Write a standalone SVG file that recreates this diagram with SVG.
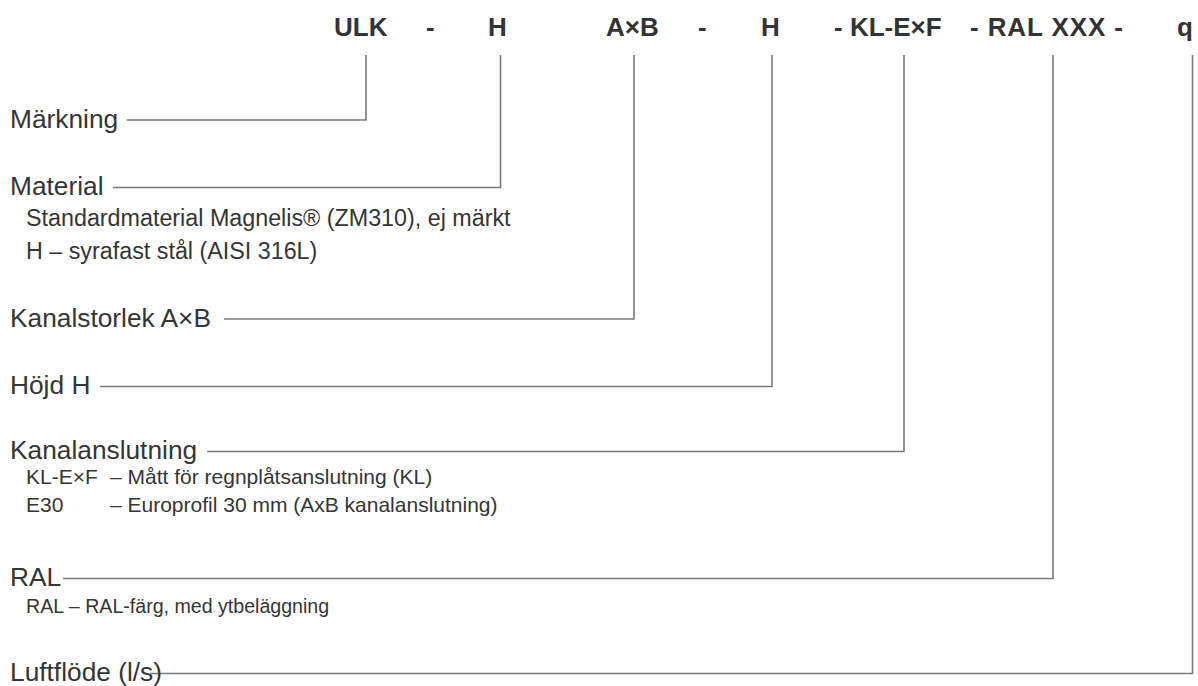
<svg xmlns="http://www.w3.org/2000/svg" width="1198" height="686" viewBox="0 0 1198 686">
<style>
.code{font-family:"Liberation Sans",Arial,sans-serif;font-weight:bold;font-size:26px;fill:#333}
.lbl{font-family:"Liberation Sans",Arial,sans-serif;font-size:26.3px;fill:#353535}
.sub{font-family:"Liberation Sans",Arial,sans-serif;fill:#353535}
.s1{font-size:23.3px}
.s2{font-size:21px}
.s3{font-size:19.6px}
.con{fill:none;stroke:#7a7a7a;stroke-width:1.6}
</style>
<rect width="1198" height="686" fill="#fff"/>
<g id="code">
<text class="code" x="334" y="36">ULK</text>
<text class="code" x="426" y="36">-</text>
<text class="code" x="488" y="36">H</text>
<text class="code" x="606" y="36">A×B</text>
<text class="code" x="698" y="36">-</text>
<text class="code" x="761" y="36">H</text>
<text class="code" x="834" y="36">- KL-E×F</text>
<text class="code" x="970" y="36" textLength="153">- RAL XXX -</text>
<text class="code" x="1177" y="36">q</text>
</g>
<g id="connectors">
<polyline class="con" points="127,120 366,120 366,55"/>
<polyline class="con" points="113,187.5 500.5,187.5 500.5,55"/>
<polyline class="con" points="224,319 634,319 634,55"/>
<polyline class="con" points="100,386.5 772,386.5 772,55"/>
<polyline class="con" points="207,451.5 904,451.5 904,55"/>
<polyline class="con" points="63,578.5 1053,578.5 1053,55"/>
<polyline class="con" points="150,673.5 1192.5,673.5 1192.5,55"/>
</g>
<g id="marking">
<text class="lbl" x="10" y="128">Märkning</text>
</g>
<g id="material">
<text class="lbl" x="10" y="195">Material</text>
<text class="sub s1" x="26" y="226">Standardmaterial Magnelis® (ZM310), ej märkt</text>
<text class="sub s1" x="26" y="259">H – syrafast stål (AISI 316L)</text>
</g>
<g id="kanalstorlek">
<text class="lbl" x="10" y="327">Kanalstorlek A×B</text>
</g>
<g id="hojd">
<text class="lbl" x="10" y="394">Höjd H</text>
</g>
<g id="kanalanslutning">
<text class="lbl" x="10" y="459">Kanalanslutning</text>
<text class="sub s2" x="26" y="484">KL-E×F</text>
<text class="sub s2" x="110" y="484">– Mått för regnplåtsanslutning (KL)</text>
<text class="sub s2" x="26" y="512">E30</text>
<text class="sub s2" x="110" y="512">– Europrofil 30 mm (AxB kanalanslutning)</text>
</g>
<g id="ral">
<text class="lbl" x="10" y="586">RAL</text>
<text class="sub s3" x="26" y="613">RAL – RAL-färg, med ytbeläggning</text>
</g>
<g id="luftflode">
<text class="lbl" x="10" y="681">Luftflöde (l/s)</text>
</g>
</svg>
